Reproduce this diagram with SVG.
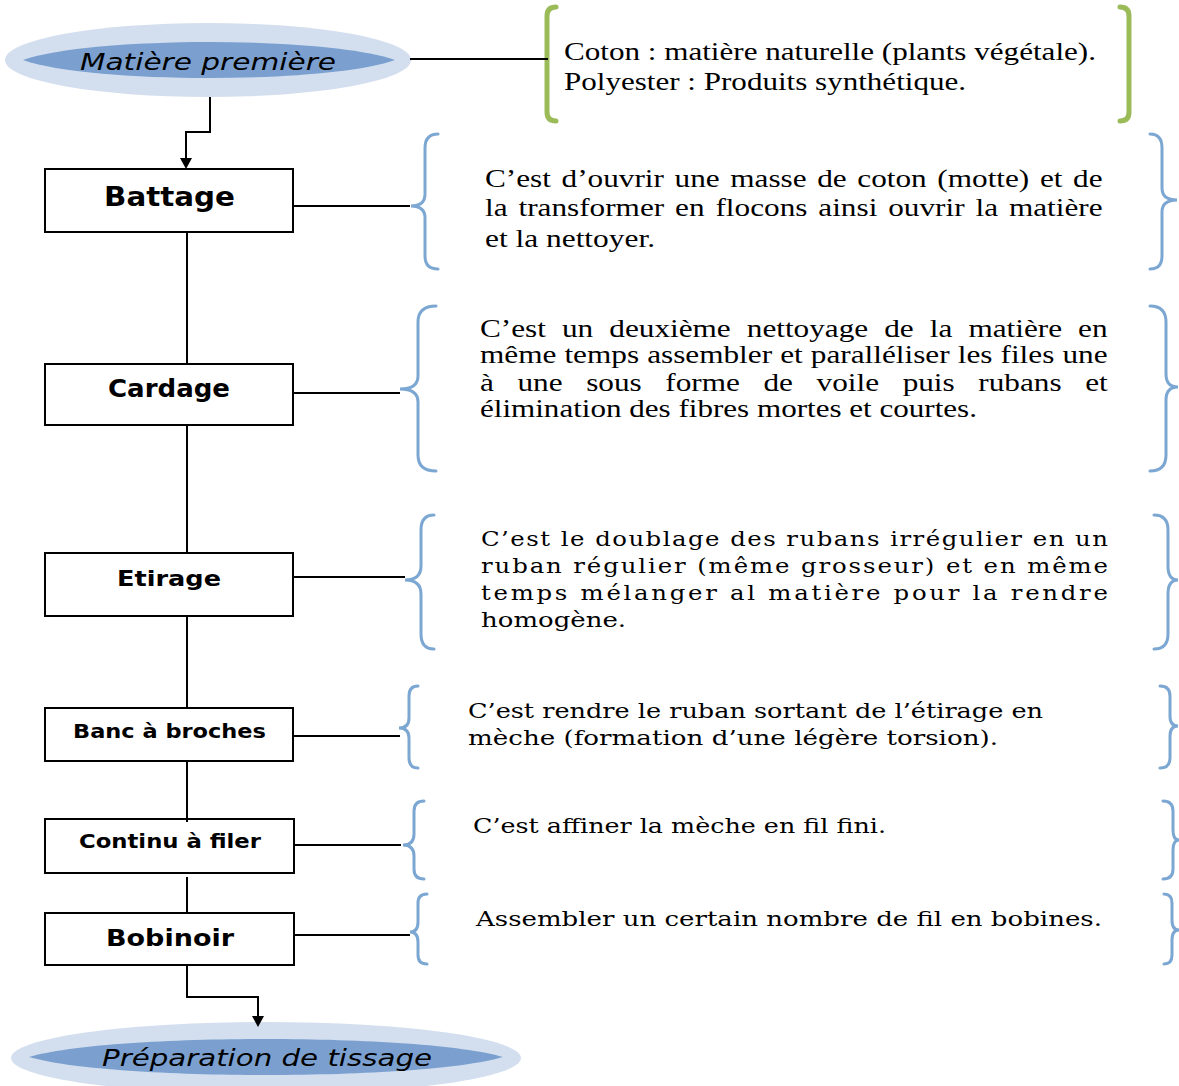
<svg xmlns="http://www.w3.org/2000/svg" width="1179" height="1086" viewBox="0 0 1179 1086">
<style>
.box{fill:#fff;stroke:#000;stroke-width:2}
.lbl{font-family:"DejaVu Sans",sans-serif;font-weight:bold;fill:#000;text-anchor:middle}
.ell{font-family:"DejaVu Sans",sans-serif;font-style:italic;fill:#000;text-anchor:middle;font-size:23px}
.conn{fill:none;stroke:#000;stroke-width:2}
.br{fill:none;stroke:#7BA7D2;stroke-width:3;stroke-linecap:round}
.gb{fill:none;stroke:#9BBB59;stroke-width:5;stroke-linecap:round}
.t{font-family:"Liberation Serif",serif;font-size:25px;fill:#000}
.c{font-family:"DejaVu Serif","Liberation Serif",serif;font-size:20px;fill:#000}
.outer{fill:#D3DFEE}
.inner{fill:#7BA0CF}
</style>

<g id="matiere">
<ellipse class="outer" cx="208" cy="60" rx="203" ry="37"/>
<path class="inner" d="M23,60 C90,36 328,36 395,60 C328,84 90,84 23,60 Z"/>
<text class="ell" x="208" y="70" textLength="256" lengthAdjust="spacingAndGlyphs">Matière première</text>
</g>

<g id="matiere-note">
<path class="gb" d="M556,7 Q547,7 547,16 V112 Q547,121 556,121"/>
<path class="gb" d="M1120,7 Q1129,7 1129,16 V112 Q1129,121 1120,121"/>
<g transform="matrix(1.25 0 0 1 564 0)">
<text class="t" x="0" y="60" textLength="425.6" lengthAdjust="spacingAndGlyphs">Coton : matière naturelle (plants végétale).</text>
<text class="t" x="0" y="90" textLength="321.6" lengthAdjust="spacingAndGlyphs">Polyester : Produits synthétique.</text>
</g>
</g>

<g id="battage">
<rect class="box" x="45" y="169" width="248" height="63"/>
<text class="lbl" x="169.5" y="206" font-size="26" textLength="131" lengthAdjust="spacingAndGlyphs">Battage</text>
</g>
<g id="battage-note">
<path class="br" d="M438,134 Q425,134 425,148 V194 Q425,206 411,206 Q425,206 425,218 V256 Q425,269 438,269"/>
<path class="br" d="M1150,134 Q1162,134 1162,148 V188 Q1162,200 1177,200 Q1162,200 1162,212 V256 Q1162,269 1150,269"/>
<g transform="matrix(1.25 0 0 1 485 0)">
<text class="t" x="0" y="187" word-spacing="2.26">C’est d’ouvrir une masse de coton (motte) et de</text>
<text class="t" x="0" y="216" word-spacing="2.49">la transformer en flocons ainsi ouvrir la matière</text>
<text class="t" x="0" y="247" textLength="136" lengthAdjust="spacingAndGlyphs">et la nettoyer.</text>
</g>
</g>

<g id="cardage">
<rect class="box" x="45" y="364" width="248" height="61"/>
<text class="lbl" x="169" y="397" font-size="24" textLength="122" lengthAdjust="spacingAndGlyphs">Cardage</text>
</g>
<g id="cardage-note">
<path class="br" d="M436,306 Q418,306 418,322 V376 Q418,389 400,389 Q418,389 418,402 V455 Q418,471 436,471"/>
<path class="br" d="M1150,306 Q1166,306 1166,322 V374 Q1166,387 1178,387 Q1166,387 1166,400 V455 Q1166,471 1150,471"/>
<g transform="matrix(1.25 0 0 1 480 0)">
<text class="t" x="0" y="337" word-spacing="6.61">C’est un deuxième nettoyage de la matière en</text>
<text class="t" x="0" y="363" word-spacing="0.26">même temps assembler et paralléliser les files une</text>
<text class="t" x="0" y="391" word-spacing="12.64">à une sous forme de voile puis rubans et</text>
<text class="t" x="0" y="417" textLength="397.6" lengthAdjust="spacingAndGlyphs">élimination des fibres mortes et courtes.</text>
</g>
</g>

<g id="etirage">
<rect class="box" x="45" y="553" width="248" height="63"/>
<text class="lbl" x="169" y="586" font-size="22" textLength="104" lengthAdjust="spacingAndGlyphs">Etirage</text>
</g>
<g id="etirage-note">
<path class="br" d="M434,515 Q421,515 421,530 V566 Q421,580 405,580 Q421,580 421,594 V634 Q421,649 434,649"/>
<path class="br" d="M1154,515 Q1168,515 1168,530 V566 Q1168,580 1178,580 Q1168,580 1168,594 V634 Q1168,649 1154,649"/>
<g transform="matrix(1.22 0 0 1 481 0)">
<text class="c" x="0" y="546" textLength="513.9" lengthAdjust="spacing">C’est le doublage des rubans irrégulier en un</text>
<text class="c" x="0" y="573" textLength="513.9" lengthAdjust="spacing">ruban régulier (même grosseur) et en même</text>
<text class="c" x="0" y="600" textLength="513.9" lengthAdjust="spacing">temps mélanger al matière pour la rendre</text>
<text class="c" x="0" y="627" textLength="118.9" lengthAdjust="spacingAndGlyphs">homogène.</text>
</g>
</g>

<g id="banc">
<rect class="box" x="45" y="708" width="248" height="53"/>
<text class="lbl" x="169.5" y="738" font-size="19.5" textLength="193" lengthAdjust="spacingAndGlyphs">Banc à broches</text>
</g>
<g id="banc-note">
<path class="br" d="M418,686 Q409,686 409,696 V718 Q409,728 399,728 Q409,728 409,738 V758 Q409,768 418,768"/>
<path class="br" d="M1160,686 Q1170,686 1170,696 V716 Q1170,726 1178,726 Q1170,726 1170,736 V758 Q1170,768 1160,768"/>
<g transform="matrix(1.22 0 0 1 468 0)">
<text class="c" x="0" y="718" textLength="471.3" lengthAdjust="spacingAndGlyphs">C’est rendre le ruban sortant de l’étirage en</text>
<text class="c" x="0" y="745" textLength="434.4" lengthAdjust="spacingAndGlyphs">mèche (formation d’une légère torsion).</text>
</g>
</g>

<g id="continu">
<rect class="box" x="45" y="819" width="249" height="54"/>
<text class="lbl" x="170" y="848" font-size="19.5" textLength="182" lengthAdjust="spacingAndGlyphs">Continu à filer</text>
</g>
<g id="continu-note">
<path class="br" d="M424,801 Q414,801 414,811 V834 Q414,845 403,845 Q414,845 414,856 V869 Q414,879 424,879"/>
<path class="br" d="M1163,801 Q1173,801 1173,811 V830 Q1173,840 1179,840 Q1173,840 1173,850 V869 Q1173,879 1163,879"/>
<g transform="matrix(1.22 0 0 1 473 0)">
<text class="c" x="0" y="833" textLength="338.5" lengthAdjust="spacingAndGlyphs">C’est affiner la mèche en fil fini.</text>
</g>
</g>

<g id="bobinoir">
<rect class="box" x="45" y="913" width="249" height="52"/>
<text class="lbl" x="170" y="946" font-size="23" textLength="128" lengthAdjust="spacingAndGlyphs">Bobinoir</text>
</g>
<g id="bobinoir-note">
<path class="br" d="M427,894 Q418,894 418,903 V922 Q418,932 410,932 Q418,932 418,942 V955 Q418,964 427,964"/>
<path class="br" d="M1164,894 Q1172,894 1172,903 V920 Q1172,930 1179,930 Q1172,930 1172,940 V955 Q1172,964 1164,964"/>
<g transform="matrix(1.22 0 0 1 476 0)">
<text class="c" x="0" y="926" textLength="513.1" lengthAdjust="spacingAndGlyphs">Assembler un certain nombre de fil en bobines.</text>
</g>
</g>

<g id="preparation">
<ellipse class="outer" cx="266" cy="1058" rx="255" ry="36"/>
<path class="inner" d="M29,1057 C110,1033 422,1033 503,1057 C422,1081 110,1081 29,1057 Z"/>
<text class="ell" x="267" y="1066" textLength="330" lengthAdjust="spacingAndGlyphs">Préparation de tissage</text>
</g>

<g id="connectors">
<path class="conn" d="M210,97 V132 H186 V160"/>
<path d="M180,158 L192,158 L186,169 Z" fill="#000"/>
<line class="conn" x1="410" y1="59" x2="548" y2="59"/>
<line class="conn" x1="187" y1="232" x2="187" y2="364"/>
<line class="conn" x1="187" y1="425" x2="187" y2="553"/>
<line class="conn" x1="187" y1="616" x2="187" y2="708"/>
<line class="conn" x1="187" y1="761" x2="187" y2="822"/>
<line class="conn" x1="187" y1="877" x2="187" y2="913"/>
<path class="conn" d="M187,965 V997 H258 V1018"/>
<path d="M252,1016 L264,1016 L258,1027 Z" fill="#000"/>
<line class="conn" x1="293" y1="206" x2="410" y2="206"/>
<line class="conn" x1="293" y1="393" x2="400" y2="393"/>
<line class="conn" x1="293" y1="577" x2="405" y2="577"/>
<line class="conn" x1="293" y1="736" x2="400" y2="736"/>
<line class="conn" x1="293" y1="845" x2="401" y2="845"/>
<line class="conn" x1="293" y1="935" x2="410" y2="935"/>
</g>
</svg>
